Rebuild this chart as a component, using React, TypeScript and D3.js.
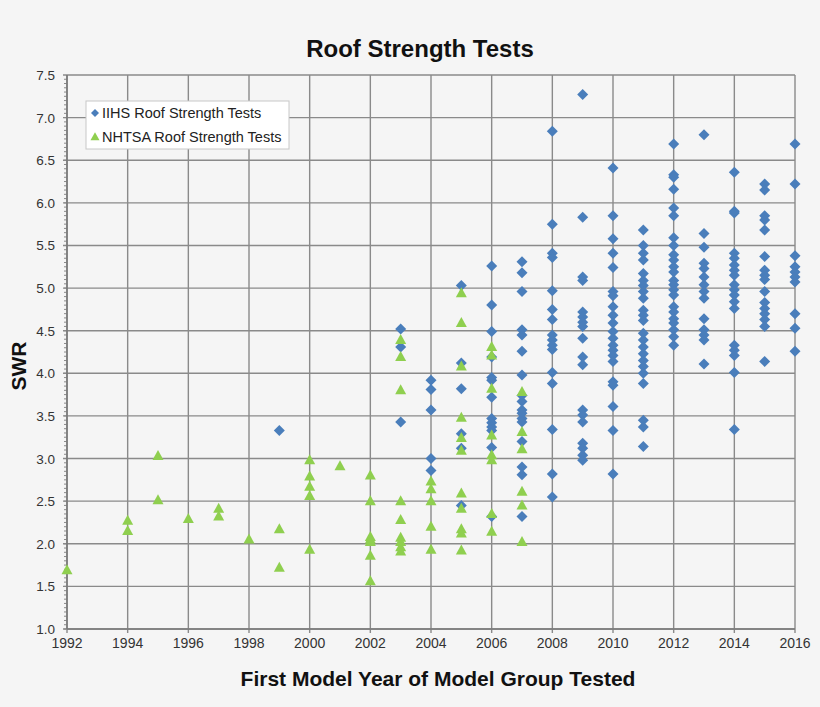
import React, { useEffect, useRef } from "react";
import * as d3 from "d3";

// SWR readings grouped by first model year
const iihsYears = [1999, 2003, 2004, 2005, 2006, 2007, 2008, 2009, 2010, 2011, 2012, 2013, 2014, 2015, 2016];
const iihsSwr = [
  [3.33],
  [4.52, 4.31, 3.43],
  [3.92, 3.81, 3.57, 3.0, 2.86],
  [5.03, 4.12, 3.82, 3.29, 3.12, 2.45],
  [5.26, 4.8, 4.49, 4.19, 3.95, 3.92, 3.72, 3.47, 3.42, 3.37, 3.33, 3.13, 2.32],
  [5.31, 5.18, 4.96, 4.51, 4.45, 4.26, 3.98, 3.74, 3.67, 3.57, 3.53, 3.47, 3.43, 3.2, 2.9, 2.81, 2.32],
  [6.84, 5.75, 5.41, 5.36, 4.97, 4.75, 4.63, 4.45, 4.39, 4.33, 4.28, 4.01, 3.88, 3.34, 2.82, 2.55],
  [7.27, 5.83, 5.13, 5.09, 4.72, 4.66, 4.6, 4.55, 4.41, 4.19, 4.1, 3.57, 3.51, 3.43, 3.18, 3.12, 3.04, 2.98],
  [6.41, 5.85, 5.58, 5.41, 5.24, 4.96, 4.91, 4.78, 4.68, 4.59, 4.49, 4.41, 4.33, 4.27, 4.21, 4.14, 3.9, 3.86, 3.61, 3.33, 2.82],
  [5.68, 5.5, 5.41, 5.33, 5.17, 5.09, 5.03, 4.96, 4.88, 4.74, 4.68, 4.62, 4.47, 4.39, 4.31, 4.23, 4.15, 4.08, 4.0, 3.88, 3.45, 3.37, 3.14],
  [6.69, 6.33, 6.3, 6.16, 5.94, 5.85, 5.59, 5.5, 5.39, 5.33, 5.25, 5.19, 5.09, 5.04, 4.98, 4.92, 4.78, 4.72, 4.64, 4.59, 4.51, 4.43, 4.33],
  [6.8, 5.64, 5.48, 5.29, 5.23, 5.13, 5.04, 4.96, 4.88, 4.64, 4.51, 4.45, 4.39, 4.11],
  [6.36, 5.9, 5.88, 5.41, 5.35, 5.27, 5.21, 5.15, 5.04, 4.98, 4.92, 4.84, 4.76, 4.33, 4.27, 4.21, 4.01, 3.34],
  [6.22, 6.15, 5.85, 5.8, 5.68, 5.37, 5.21, 5.15, 5.1, 4.96, 4.83, 4.76, 4.7, 4.63, 4.55, 4.14],
  [6.69, 6.22, 5.38, 5.25, 5.19, 5.13, 5.07, 4.7, 4.53, 4.26],
];

const nhtsaYears = [1992, 1994, 1995, 1996, 1997, 1998, 1999, 2000, 2001, 2002, 2003, 2004, 2005, 2006, 2007];
const nhtsaSwr = [
  [1.69],
  [2.27, 2.15],
  [3.03, 2.51],
  [2.29],
  [2.41, 2.32],
  [2.05],
  [2.17, 1.72],
  [2.98, 2.79, 2.67, 2.56, 1.93],
  [2.91],
  [2.8, 2.5, 2.08, 2.05, 2.02, 1.86, 1.56],
  [4.39, 4.19, 3.8, 2.5, 2.28, 2.07, 2.02, 1.96, 1.91],
  [2.73, 2.64, 2.5, 2.2, 1.93],
  [4.94, 4.59, 4.08, 3.48, 3.24, 3.09, 2.59, 2.41, 2.17, 2.12, 1.92],
  [4.31, 4.21, 3.82, 3.27, 3.04, 2.98, 2.35, 2.14],
  [3.78, 3.31, 3.11, 2.61, 2.45, 2.02],
];

const xTicks = d3.range(1992, 2017, 2);
const yTicks = d3.range(1.0, 7.51, 0.5);

const seriesNames = ["IIHS Roof Strength Tests", "NHTSA Roof Strength Tests"];

const blue = "#4a7ebb";
const green = "#8fcf4f";
const font = "'Liberation Sans', Arial, sans-serif";

const diamond = (r) => `M0,${-r}L${r},0L0,${r}L${-r},0Z`;
const triangle = (w, h) => `M0,${-h * 0.6}L${w / 2},${h * 0.4}L${-w / 2},${h * 0.4}Z`;

const RoofChart = () => {
  const width = 820;
  const height = 707;
  const svgRef = useRef();

  useEffect(() => {
    document.body.style.margin = "0";
    const svg = d3.select(svgRef.current);
    svg.selectAll("*").remove();

    svg.append("rect").attr("width", width).attr("height", height).attr("fill", "#f5f5f5");

    const x = d3.scaleLinear().domain([1992, 2016]).range([67, 795]);
    const y = d3.scaleLinear().domain([1.0, 7.5]).range([629, 75]);

    // grid
    svg.append("g")
      .selectAll("line")
      .data(xTicks)
      .join("line")
      .attr("x1", (d) => x(d)).attr("x2", (d) => x(d))
      .attr("y1", y(7.5)).attr("y2", y(1.0) + 4)
      .attr("stroke", "#8a8a8a").attr("stroke-width", 1.4);

    svg.append("g")
      .selectAll("line")
      .data(yTicks)
      .join("line")
      .attr("x1", x(1992) - 4).attr("x2", x(2016))
      .attr("y1", (d) => y(d)).attr("y2", (d) => y(d))
      .attr("stroke", "#8a8a8a").attr("stroke-width", 1.4);

    // minor ticks on y axis
    svg.append("g")
      .selectAll("line")
      .data(d3.range(1.0, 7.5, 0.05))
      .join("line")
      .attr("x1", x(1992) - 3).attr("x2", x(1992))
      .attr("y1", (d) => y(d)).attr("y2", (d) => y(d))
      .attr("stroke", "#8a8a8a").attr("stroke-width", 1);

    svg.append("line")
      .attr("x1", x(1992)).attr("x2", x(1992))
      .attr("y1", y(7.5)).attr("y2", y(1.0))
      .attr("stroke", "#7a7a7a").attr("stroke-width", 1.6);
    svg.append("line")
      .attr("x1", x(1992)).attr("x2", x(2016))
      .attr("y1", y(1.0)).attr("y2", y(1.0))
      .attr("stroke", "#7a7a7a").attr("stroke-width", 1.6);

    // tick labels
    svg.append("g")
      .selectAll("text")
      .data(yTicks)
      .join("text")
      .attr("x", x(1992) - 12)
      .attr("y", (d) => y(d) + 5)
      .attr("text-anchor", "end")
      .attr("font-family", font).attr("font-size", 13.5).attr("fill", "#333")
      .text((d) => d.toFixed(1));

    svg.append("g")
      .selectAll("text")
      .data(xTicks)
      .join("text")
      .attr("x", (d) => x(d))
      .attr("y", y(1.0) + 19)
      .attr("text-anchor", "middle")
      .attr("font-family", font).attr("font-size", 14).attr("fill", "#333")
      .text((d) => d);

    // points
    const iihsPts = iihsYears.flatMap((yr, i) => iihsSwr[i].map((v) => [yr, v]));
    const nhtsaPts = nhtsaYears.flatMap((yr, i) => nhtsaSwr[i].map((v) => [yr, v]));

    svg.append("g")
      .selectAll("path")
      .data(iihsPts)
      .join("path")
      .attr("transform", (d) => `translate(${x(d[0])},${y(d[1])})`)
      .attr("d", diamond(5.5))
      .attr("fill", blue);

    svg.append("g")
      .selectAll("path")
      .data(nhtsaPts)
      .join("path")
      .attr("transform", (d) => `translate(${x(d[0])},${y(d[1])})`)
      .attr("d", triangle(11, 10))
      .attr("fill", green);

    // titles
    svg.append("text")
      .attr("x", 420).attr("y", 57)
      .attr("text-anchor", "middle")
      .attr("font-family", font).attr("font-weight", "bold").attr("font-size", 24).attr("fill", "#111")
      .text("Roof Strength Tests");

    svg.append("text")
      .attr("x", 438).attr("y", 686)
      .attr("text-anchor", "middle")
      .attr("font-family", font).attr("font-weight", "bold").attr("font-size", 21).attr("fill", "#111")
      .text("First Model Year of Model Group Tested");

    svg.append("text")
      .attr("transform", "translate(26,366) rotate(-90)")
      .attr("text-anchor", "middle")
      .attr("font-family", font).attr("font-weight", "bold").attr("font-size", 21).attr("fill", "#111")
      .text("SWR");

    // legend
    const lg = svg.append("g");
    lg.append("rect")
      .attr("x", 86).attr("y", 101).attr("width", 203).attr("height", 48)
      .attr("fill", "#fff").attr("stroke", "#c8c8c8").attr("stroke-width", 1);
    lg.append("path").attr("transform", "translate(95,113)").attr("d", diamond(4)).attr("fill", blue);
    lg.append("path").attr("transform", "translate(95,137)").attr("d", triangle(9, 8)).attr("fill", green);
    lg.selectAll("text.leg")
      .data(seriesNames)
      .join("text")
      .attr("class", "leg")
      .attr("x", 102)
      .attr("y", (d, i) => 118 + i * 24)
      .attr("font-family", font).attr("font-size", 14.5).attr("fill", "#222")
      .text((d) => d);
  }, []);

  return <svg ref={svgRef} width={width} height={height} style={{ display: "block" }}></svg>;
};

export default function App() {
  return <RoofChart />;
}
